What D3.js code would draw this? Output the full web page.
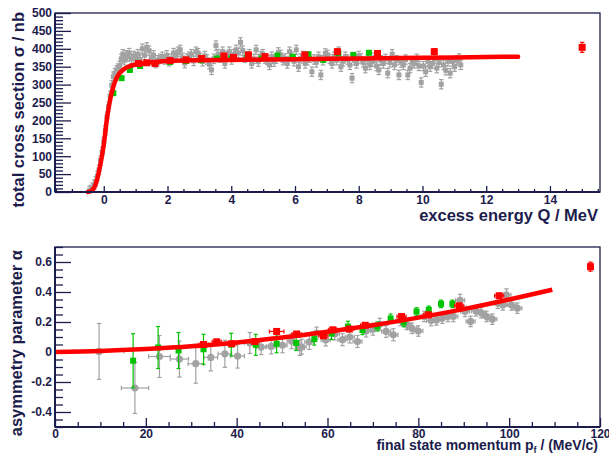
<!DOCTYPE html>
<html><head><meta charset="utf-8">
<script src="https://cdn.jsdelivr.net/npm/d3@7"></script>
<style>
body{margin:0;background:#fff}
svg{display:block}
text{font-family:"Liberation Sans",Arial,Helvetica,sans-serif;font-weight:bold;fill:#1c1c4c}
</style>
</head><body><svg id="c" width="609" height="456"></svg>
<script>
// ---------------- DATA ----------------
const topXTicks=[0,2,4,6,8,10,12,14];
const topYTicks=[0,50,100,150,200,250,300,350,400,450,500];
const botXTicks=[0,20,40,60,80,100,120];
const botYTicks=[-0.4,-0.2,0,0.2,0.4,0.6];
const botYLabels=["-0.4","-0.2","0","0.2","0.4","0.6"];

// total cross section: gray data [Q, sigma]
const grayTop=[[-0.45,3],[-0.40,6],[-0.35,12],[-0.30,20],[-0.25,30],[-0.20,45],[-0.15,62],[-0.10,88],[-0.05,112],[0.00,140],[0.05,172],[0.10,210],[0.15,238],[0.20,268],[0.25,298],[0.30,322],[0.35,332],[0.40,340],[0.45,345],[0.50,352],[0.55,372],[0.60,385],[0.65,368],[0.70,382],[0.75,378],[0.80,388],[0.87,372],[0.94,380],[1.00,376],[1.07,385],[1.14,370],[1.21,400],[1.28,382],[1.35,404],[1.42,395],[1.49,375],[1.56,382],[1.63,360],[1.70,368],[1.77,372],[1.84,378],[1.91,370],[1.98,382],[2.05,365],[2.12,372],[2.19,388],[2.26,380],[2.33,392],[2.40,397],[2.47,375],[2.54,360],[2.61,373],[2.68,378],[2.75,385],[2.82,366],[2.89,392],[2.96,388],[3.03,375],[3.10,365],[3.17,380],[3.24,370],[3.31,357],[3.38,341],[3.45,372],[3.52,409],[3.59,385],[3.66,375],[3.73,392],[3.80,359],[3.87,380],[3.94,392],[4.01,370],[4.08,385],[4.15,397],[4.22,388],[4.29,418],[4.36,395],[4.43,375],[4.50,378],[4.57,385],[4.64,359],[4.71,372],[4.78,397],[4.85,364],[4.92,380],[4.99,385],[5.06,372],[5.13,369],[5.20,355],[5.27,378],[5.34,364],[5.41,372],[5.48,390],[5.55,383],[5.62,368],[5.69,373],[5.76,359],[5.83,392],[5.90,378],[5.97,365],[6.04,397],[6.11,350],[6.18,373],[6.25,380],[6.32,359],[6.39,368],[6.46,375],[6.53,336],[6.60,370],[6.67,362],[6.74,378],[6.81,327],[6.88,368],[6.95,387],[7.02,383],[7.09,372],[7.16,359],[7.23,378],[7.30,368],[7.37,392],[7.44,350],[7.51,365],[7.58,378],[7.65,370],[7.72,355],[7.79,318],[7.86,368],[7.93,359],[8.00,380],[8.07,373],[8.14,362],[8.21,346],[8.28,370],[8.35,355],[8.42,364],[8.49,375],[8.56,352],[8.63,341],[8.70,368],[8.77,359],[8.84,372],[8.91,332],[8.98,362],[9.05,385],[9.12,355],[9.19,368],[9.26,327],[9.33,362],[9.40,355],[9.47,370],[9.54,327],[9.61,346],[9.68,362],[9.75,359],[9.82,372],[9.89,352],[9.96,306],[10.03,352],[10.10,336],[10.17,365],[10.24,350],[10.31,359],[10.38,372],[10.45,346],[10.52,362],[10.59,301],[10.66,355],[10.73,340],[10.80,365],[10.87,332],[10.94,364],[11.01,350],[11.08,368],[11.15,373],[11.20,355]];
const grayTopErr=13;
// green data [Q, sigma]
const greenTop=[[0.30,276],[0.56,318],[0.82,341],[1.14,352],[1.60,360],[2.08,363],[2.58,366],[3.05,368],[3.55,373],[4.00,373],[4.50,375],[4.96,373],[5.45,381],[5.93,378],[6.42,385],[6.89,369],[7.36,387],[7.83,383],[8.32,389]];
const greenTopErr=5;
// red data [Q, sigma, err]
const redTop=[[1.09,359,5],[1.35,361,5],[1.61,359,5],[2.08,367,5],[2.58,369,5],[3.07,373,5],[3.77,380,6],[4.07,376,6],[4.54,383,6],[5.06,378,6],[6.31,383,6],[7.33,392,7],[8.59,387,7],[10.37,392,8],[15.01,404,14]];
// fit curve [Q, sigma]
const fitTopQ=[-0.5,-0.4,-0.3,-0.2,-0.1,0,0.1,0.2,0.3,0.4,0.5,0.6,0.8,1.0,1.3,1.6,2,3,4,6,8,10,12,13];
const fitTopS=[0,3,12,38,80,132,205,258,294,318,332,341,351,356,360,363,366,368,369,371,373,375,377,378];

// asymmetry: gray data [p, alpha, vErr, hErr]
const grayBot=[[9.7,0.004,0.186,5.5],[17.6,-0.24,0.17,3],[23.0,-0.03,0.14,2.4],[27.4,-0.047,0.12,2],[31.0,-0.078,0.13,1.7],[34.3,-0.036,0.09,1.5],[37.4,-0.012,0.09,1.5],[40.2,-0.027,0.08,1.5],[42.9,0.06,0.07,1.2],[45.4,0.033,0.05,1],[47.6,0.037,0.05,1],[50.1,0.045,0.05,1],[52.1,0.072,0.05,1],[53.9,0.027,0.05,1],[54.3,0.035,0.05,1],[56.0,0.067,0.05,1],[57.6,0.126,0.04,1],[59.6,0.08,0.04,1],[61.6,0.12,0.04,1],[63.3,0.082,0.04,1],[64.9,0.1,0.04,1],[66.6,0.07,0.04,1],[68.5,0.14,0.04,1],[70.0,0.152,0.04,1],[71.5,0.185,0.04,1],[72.9,0.137,0.04,1],[74.5,0.115,0.04,1],[76.1,0.21,0.035,1],[77.4,0.185,0.035,1],[78.6,0.158,0.035,1],[80.0,0.14,0.035,1],[81.3,0.237,0.035,1],[82.8,0.21,0.035,1],[84.0,0.214,0.035,1],[85.3,0.226,0.035,1],[86.5,0.237,0.035,1],[87.7,0.237,0.035,1],[89.2,0.345,0.04,1],[90.3,0.27,0.035,1],[91.5,0.204,0.035,1],[92.7,0.274,0.035,1],[93.8,0.263,0.035,1],[95.0,0.237,0.035,1],[96.3,0.219,0.035,1],[97.5,0.325,0.035,1],[98.6,0.314,0.035,1],[99.4,0.381,0.04,1],[100.5,0.314,0.035,1],[101.8,0.292,0.035,1]];
// green data [p, alpha, err]
const greenBot=[[17.2,-0.058,0.18],[22.7,0.03,0.14],[27.2,0.01,0.12],[32.7,0.018,0.1],[38.8,0.05,0.075],[44.2,0.048,0.07],[48.8,0.055,0.06],[53.1,0.06,0.05],[57.1,0.086,0.04],[60.9,0.123,0.04],[64.5,0.17,0.035],[67.7,0.146,0.03],[71.0,0.17,0.03],[73.9,0.223,0.03],[76.8,0.198,0.03],[79.6,0.27,0.025],[82.3,0.281,0.025],[85.0,0.321,0.025],[87.5,0.321,0.025]];
// red data [p, alpha, vErr, hErr]
const redBot=[[32.7,0.05,0.015,1],[35.6,0.068,0.015,1],[38.9,0.055,0.015,1],[44.0,0.07,0.015,1],[48.8,0.137,0.015,1.6],[53.2,0.12,0.015,1],[59.1,0.108,0.015,1],[61.2,0.148,0.015,1],[64.8,0.153,0.015,1],[68.3,0.178,0.015,1],[76.3,0.236,0.015,1],[82.2,0.248,0.015,1],[89.0,0.308,0.015,1],[97.8,0.375,0.015,1],[117.9,0.569,0.03,0.5]];
// fit curve [p, alpha]
const fitBotP=[0,10,20,30,40,50,60,70,80,90,100,109.5];
const fitBotA=[0,0.007,0.02,0.038,0.064,0.096,0.135,0.178,0.229,0.286,0.35,0.415];

// ---------------- DRAW ----------------
const svg=d3.select("#c");
const NAVY="#1c1c4c", GRAY="#a2a2a2", GREEN="#00c400", RED="#ff0000";

function frame(g,L,R,T,B){
  g.append("rect").attr("x",L).attr("y",T).attr("width",R-L).attr("height",B-T)
   .attr("fill","none").attr("stroke",NAVY).attr("stroke-width",1.3);
  g.append("line").attr("x1",L).attr("x2",R).attr("y1",B).attr("y2",B).attr("stroke",NAVY).attr("stroke-width",2);
  g.append("line").attr("x1",L).attr("x2",L).attr("y1",T).attr("y2",B).attr("stroke",NAVY).attr("stroke-width",2);
}
function styleAxis(sel){
  sel.select(".domain").remove();
  sel.selectAll("line").attr("stroke",NAVY).attr("stroke-width",1.3);
  sel.selectAll("text").attr("font-size",12).attr("fill",NAVY).style("font-weight","bold");
}
function range(a,b,s){const r=[];for(let v=a;v<=b+1e-9;v+=s)r.push(+v.toFixed(6));return r;}

function vErr(g,x,yLo,yHi,color,cap){
  g.append("line").attr("x1",x).attr("x2",x).attr("y1",yLo).attr("y2",yHi).attr("stroke",color).attr("stroke-width",1.2);
  g.append("line").attr("x1",x-cap).attr("x2",x+cap).attr("y1",yLo).attr("y2",yLo).attr("stroke",color).attr("stroke-width",1.2);
  g.append("line").attr("x1",x-cap).attr("x2",x+cap).attr("y1",yHi).attr("y2",yHi).attr("stroke",color).attr("stroke-width",1.2);
}
function hErr(g,y,xLo,xHi,color,cap){
  g.append("line").attr("x1",xLo).attr("x2",xHi).attr("y1",y).attr("y2",y).attr("stroke",color).attr("stroke-width",1.2);
  g.append("line").attr("x1",xLo).attr("x2",xLo).attr("y1",y-cap).attr("y2",y+cap).attr("stroke",color).attr("stroke-width",1.2);
  g.append("line").attr("x1",xHi).attr("x2",xHi).attr("y1",y-cap).attr("y2",y+cap).attr("stroke",color).attr("stroke-width",1.2);
}
function square(g,x,y,s,color){
  g.append("rect").attr("x",x-s/2).attr("y",y-s/2).attr("width",s).attr("height",s).attr("fill",color);
}

// ===== TOP PANEL =====
{
const L=55,R=600,T=13,B=192;
const x=d3.scaleLinear().domain([-1.53,15.57]).range([L,R]);
const y=d3.scaleLinear().domain([0,500]).range([B,T]);
const g=svg.append("g");
g.append("g").attr("transform",`translate(${L},0)`).call(d3.axisLeft(y).tickValues(range(0,500,10).filter(v=>v%50!==0)).tickSize(-8).tickFormat("")).call(styleAxis);
g.append("g").attr("transform",`translate(0,${B})`).call(d3.axisBottom(x).tickValues(range(-1.5,15.5,0.5).filter(v=>Math.abs(v%2)>1e-6)).tickSize(-3).tickFormat("")).call(styleAxis);
g.append("g").attr("transform",`translate(${L},0)`).call(d3.axisLeft(y).tickValues(topYTicks).tickSize(-16).tickPadding(3).tickFormat(d3.format("d"))).call(styleAxis);
g.append("g").attr("transform",`translate(0,${B})`).call(d3.axisBottom(x).tickValues(topXTicks).tickSize(-6).tickPadding(3).tickFormat(d3.format("d"))).call(styleAxis);

const dg=g.append("g");
grayTop.forEach(d=>{const px=x(d[0]);vErr(dg,px,y(Math.max(0,d[1]-grayTopErr)),y(d[1]+grayTopErr),GRAY,2.2);});
grayTop.forEach(d=>square(dg,x(d[0]),y(d[1]),5,GRAY));
greenTop.forEach(d=>{const px=x(d[0]);vErr(dg,px,y(d[1]-greenTopErr),y(d[1]+greenTopErr),GREEN,2);square(dg,px,y(d[1]),6,GREEN);});
const line=d3.line().x(d=>x(d[0])).y(d=>y(d[1])).curve(d3.curveMonotoneX);
dg.append("path").datum(fitTopQ.map((q,i)=>[q,fitTopS[i]])).attr("d",line).attr("fill","none").attr("stroke",RED).attr("stroke-width",4.5).attr("stroke-linecap","round");
redTop.forEach(d=>{const px=x(d[0]);vErr(dg,px,y(d[1]-d[2]),y(d[1]+d[2]),RED,2.2);square(dg,px,y(d[1]),7,RED);});

frame(g,L,R,T,B);
g.append("text").attr("x",598).attr("y",221).attr("text-anchor","end").attr("font-size",16.5).text("excess energy Q / MeV");
g.append("text").attr("transform","translate(24,12) rotate(-90)").attr("text-anchor","end").attr("font-size",16.5).text("total cross section σ / nb");
}

// ===== BOTTOM PANEL =====
{
const L=55,R=600,T=247,B=427;
const x=d3.scaleLinear().domain([0,120]).range([L,R]);
const y=d3.scaleLinear().domain([-0.5,0.7]).range([B,T]);
const g=svg.append("g");
g.append("g").attr("transform",`translate(${L},0)`).call(d3.axisLeft(y).tickValues(range(-0.5,0.7,0.05).filter(v=>Math.abs(Math.round(v*5)-v*5)>1e-6)).tickSize(-8).tickFormat("")).call(styleAxis);
g.append("g").attr("transform",`translate(0,${B})`).call(d3.axisBottom(x).tickValues(range(0,120,5).filter(v=>v%20!==0)).tickSize(-5).tickFormat("")).call(styleAxis);
g.append("g").attr("transform",`translate(${L},0)`).call(d3.axisLeft(y).tickValues(botYTicks).tickSize(-16).tickPadding(3).tickFormat((d,i)=>botYLabels[i])).call(styleAxis);
g.append("g").attr("transform",`translate(0,${B})`).call(d3.axisBottom(x).tickValues(botXTicks).tickSize(-9).tickPadding(2).tickFormat(d3.format("d"))).call(styleAxis);

const dg=g.append("g");
grayBot.forEach(d=>{const px=x(d[0]),py=y(d[1]);vErr(dg,px,y(d[1]-d[2]),y(d[1]+d[2]),GRAY,2.2);hErr(dg,py,x(d[0]-d[3]),x(d[0]+d[3]),GRAY,2.2);});
grayBot.forEach(d=>dg.append("circle").attr("cx",x(d[0])).attr("cy",y(d[1])).attr("r",3.6).attr("fill",GRAY));
greenBot.forEach(d=>{const px=x(d[0]);vErr(dg,px,y(d[1]-d[2]),y(d[1]+d[2]),GREEN,2);square(dg,px,y(d[1]),6,GREEN);});
const line=d3.line().x(d=>x(d[0])).y(d=>y(d[1])).curve(d3.curveMonotoneX);
dg.append("path").datum(fitBotP.map((p,i)=>[p,fitBotA[i]])).attr("d",line).attr("fill","none").attr("stroke",RED).attr("stroke-width",4.5);
redBot.forEach(d=>{const px=x(d[0]),py=y(d[1]);vErr(dg,px,y(d[1]-d[2]),y(d[1]+d[2]),RED,2.2);hErr(dg,py,x(d[0]-d[3]),x(d[0]+d[3]),RED,2);square(dg,px,py,7,RED);});

frame(g,L,R,T,B);
const t=g.append("text").attr("x",598).attr("y",450).attr("text-anchor","end").attr("font-size",14);
t.append("tspan").text("final state momentum p");
t.append("tspan").attr("font-size",9).attr("dy",3).text("f");
t.append("tspan").attr("dy",-3).text(" / (MeV/c)");
g.append("text").attr("transform","translate(22,250) rotate(-90)").attr("text-anchor","end").attr("font-size",16.5).text("asymmetry parameter α");
}
</script>
</body></html>
